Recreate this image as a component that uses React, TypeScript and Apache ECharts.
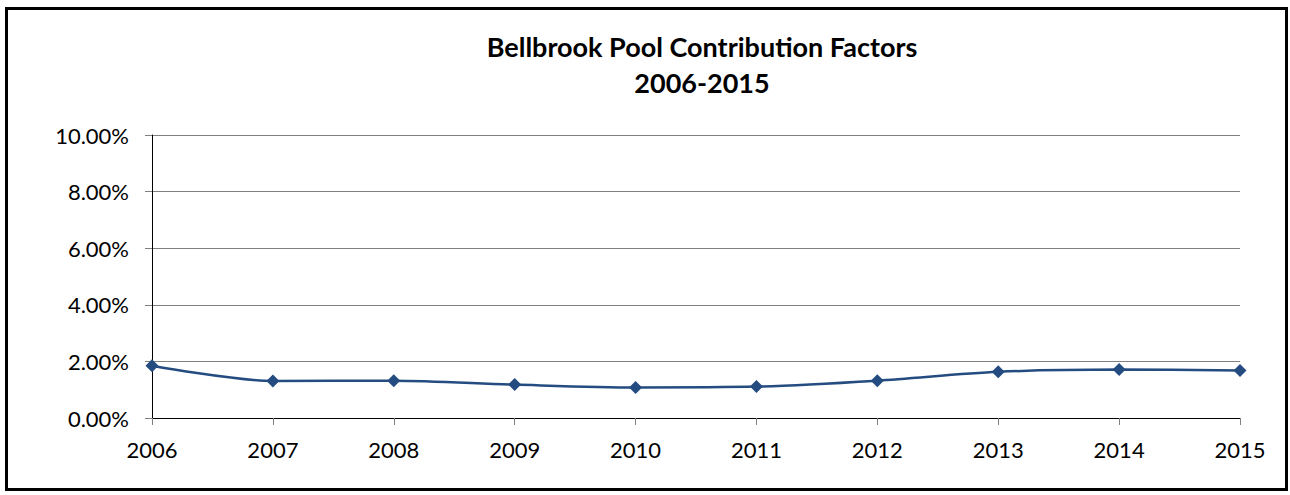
import React, { useEffect, useRef } from "react";
import * as echarts from "echarts";

const years = ["2006", "2007", "2008", "2009", "2010", "2011", "2012", "2013", "2014", "2015"];
const factors = [1.85, 1.31, 1.32, 1.18, 1.08, 1.11, 1.32, 1.63, 1.71, 1.68];
const titleLines = ["Bellbrook Pool Contribution Factors", "2006-2015"];

export default function App() {
  const ref = useRef<HTMLDivElement>(null);
  useEffect(() => {
    if (!ref.current) return;
    const chart = echarts.init(ref.current, null, { renderer: "svg" });
    const titleStyle = {
      fontFamily: "Lato",
      fontWeight: "bold",
      fontSize: 27,
      fill: "#000",
      textAlign: "center",
      textVerticalAlign: "middle",
    };
    chart.setOption({
      animation: false,
      backgroundColor: "#ffffff",
      textStyle: { fontFamily: "Lato" },
      graphic: [
        {
          type: "rect",
          shape: { x: 6.5, y: 8.5, width: 1280, height: 481 },
          style: { fill: "none", stroke: "#000", lineWidth: 3 },
        },
        {
          type: "text",
          x: 702,
          y: 46,
          style: { ...titleStyle, text: titleLines[0] },
        },
        {
          type: "text",
          x: 702,
          y: 82,
          style: { ...titleStyle, text: titleLines[1] },
        },
      ],
      grid: { left: 152, right: 50, top: 135, bottom: 77 },
      xAxis: {
        type: "category",
        data: years,
        boundaryGap: false,
        axisLine: { lineStyle: { color: "#000", width: 1 } },
        axisTick: { show: true, length: 7, lineStyle: { color: "#808080" } },
        axisLabel: { fontSize: 22, color: "#000", margin: 20, fontFamily: "Lato" },
        splitLine: { show: false },
      },
      yAxis: {
        type: "value",
        min: 0,
        max: 10,
        interval: 2,
        axisLine: { show: true, lineStyle: { color: "#000", width: 1 } },
        axisTick: { show: true, length: 7, lineStyle: { color: "#808080" } },
        axisLabel: {
          fontSize: 22,
          color: "#000",
          margin: 23,
          fontFamily: "Lato",
          formatter: (v: number) => v.toFixed(2) + "%",
        },
        splitLine: { show: true, lineStyle: { color: "#808080", width: 1 } },
      },
      series: [
        {
          type: "line",
          data: factors,
          smooth: 0.3,
          symbol: "diamond",
          symbolSize: 13,
          lineStyle: { color: "#244C80", width: 2.5 },
          itemStyle: { color: "#244C80" },
        },
      ],
    });
    return () => chart.dispose();
  }, []);
  return (
    <div
      ref={ref}
      style={{ position: "absolute", left: 0, top: 0, width: 1290, height: 495 }}
    />
  );
}
